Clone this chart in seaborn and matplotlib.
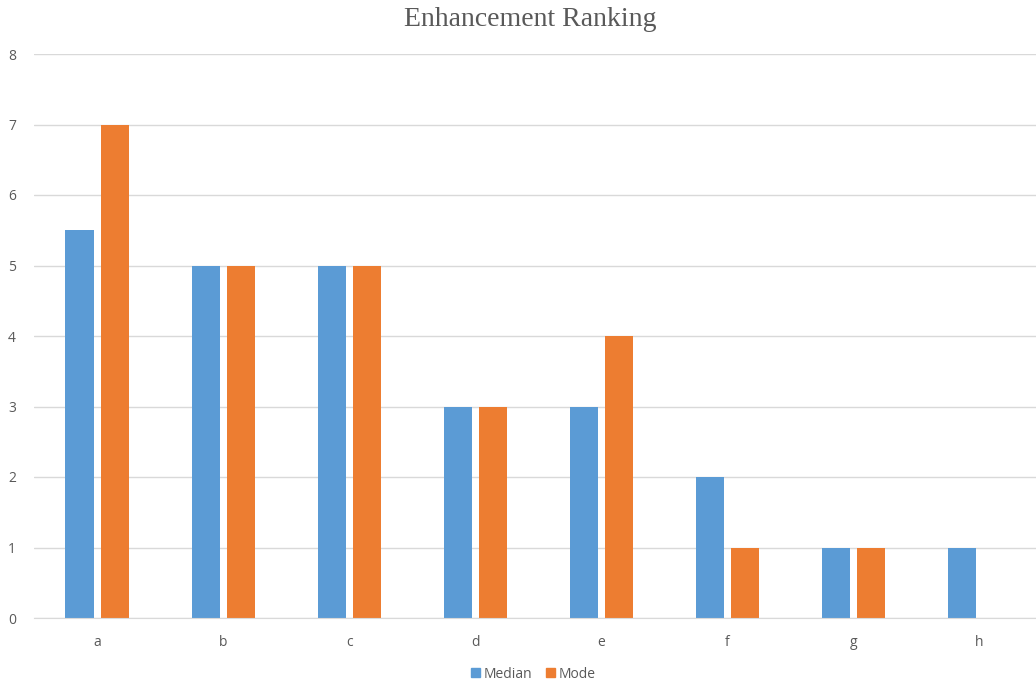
import pandas as pd
import matplotlib.pyplot as plt
import seaborn as sns

# === Data ===
categories = ["a", "b", "c", "d", "e", "f", "g", "h"]
median_vals = [5.5, 5, 5, 3, 3, 2, 1, 1]
mode_vals = [7, 5, 5, 3, 4, 1, 1, 0]

df = pd.DataFrame({
    "item": categories * 2,
    "value": median_vals + mode_vals,
    "stat": ["Median"] * len(categories) + ["Mode"] * len(categories),
})

palette = {"Median": "#5B9BD5", "Mode": "#ED7D31"}
text_color = "#595959"
grid_color = "#D9D9D9"

# === Plot ===
sns.set_style("white")
plt.rcParams["font.family"] = ["Open Sans", "DejaVu Sans"]

fig = plt.figure(figsize=(10.36, 6.83), dpi=100)
ax = fig.add_axes([34 / 1036, 65 / 683, 1 - 34 / 1036, 564 / 683])

sns.barplot(data=df, x="item", y="value", hue="stat", palette=palette,
            width=0.556, gap=0.2, saturation=1, linewidth=0, ax=ax, legend=False)

ax.set_xlim(-0.5, 7.45)
ax.set_ylim(0, 8)
ax.set_yticks(range(0, 9))
ax.yaxis.grid(True, color=grid_color, linewidth=1)
ax.set_axisbelow(True)
for s in ["left", "right", "top"]:
    ax.spines[s].set_visible(False)
ax.spines["bottom"].set_color(grid_color)
ax.tick_params(axis="both", length=0, labelsize=10, colors=text_color)
ax.tick_params(axis="x", pad=12)
ax.tick_params(axis="y", pad=13)
ax.set_xlabel("")
ax.set_ylabel("")

# === Title and legend ===
fig.text(0.512, 0.972, "Enhancement Ranking", ha="center", va="center",
         fontsize=20, color=text_color, family="Liberation Serif")

handles = [plt.Rectangle((0, 0), 1, 1, color=palette[k]) for k in ["Median", "Mode"]]
fig.legend(handles, ["Median", "Mode"], loc="center", bbox_to_anchor=(0.515, 0.013),
           ncol=2, frameon=False, fontsize=10, handlelength=0.6, handleheight=0.6,
           handletextpad=0.3, columnspacing=1.0, labelcolor=text_color)

plt.savefig("out.png", dpi=100)
plt.close()
